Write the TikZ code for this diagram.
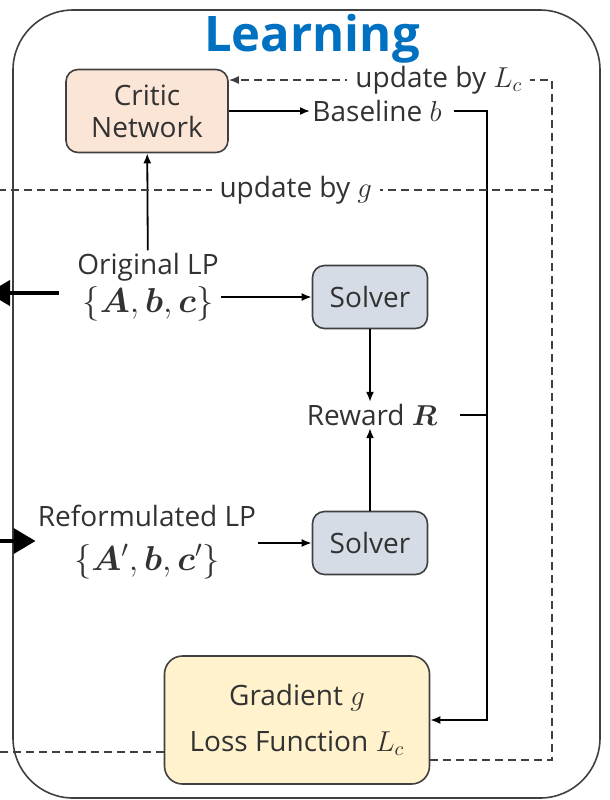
\documentclass[tikz,border=0pt]{standalone}
\usepackage{amsmath}
\usepackage{bm}
\usepackage{fontspec}
\setmainfont{Open Sans}
\usepackage{tikz}
\usetikzlibrary{%
   arrows.meta,%
   calc,%
   positioning}
\definecolor{titelblau}{RGB}{0,112,192}
\definecolor{kritik}{RGB}{251,229,214}
\definecolor{loeser}{RGB}{214,220,229}
\definecolor{verlust}{RGB}{255,242,204}
\definecolor{rahmen}{RGB}{64,64,64}
\definecolor{schrift}{RGB}{50,50,50}
\newcommand{\lpset}[1]{{\fontsize{18}{21}\selectfont$\{#1\}$}}
\begin{document}
\begin{tikzpicture}
[x=0.5pt, y=-0.5pt,
 font=\fontsize{14}{16}\selectfont,
 box/.style={draw=rahmen, rectangle, line width=0.8pt, rounded corners=6pt, text=schrift, align=center},
 txt/.style={text=schrift, inner sep=1pt, align=center},
 pfeil/.style={-{Latex[length=5pt,width=4pt]}, line width=0.9pt},
 strich/.style={line width=0.9pt},
 gestr/.style={dash pattern=on 4pt off 2.5pt, line width=0.7pt, draw=black!75},
 dpfeil/.style={gestr, -{Latex[length=5pt,width=4pt]}},
 dick/.style={line width=2pt, -{Triangle[length=11pt,width=12.5pt]}}]
\clip (0,0) rectangle (610,800);
\draw[rahmen, line width=0.8pt, rounded corners=30pt] (13,10) rectangle (600,798);
\node (titel) at (312,39) {\fontsize{24.5}{26}\selectfont\bfseries\color{titelblau}Learning};
\node (critic) [box, fill=kritik, minimum width=81pt, minimum height=41.5pt] at (147,111) {Critic\\ Network};
\node (baseln) [txt] at (377,111) {Baseline $b$};
\node (origlp) [txt] at (148,287) {Original LP\\[2pt] \lpset{\bm{A},\bm{b},\bm{c}}};
\node (solver1) [box, fill=loeser, minimum width=57.5pt, minimum height=31.5pt] at (370,297) {Solver};
\node (reward) [txt] at (372,415) {Reward $\bm{R}$};
\node (solver2) [box, fill=loeser, minimum width=57.5pt, minimum height=31.5pt] at (370,543) {Solver};
\node (reflp) [txt] at (147,542) {Reformulated LP\\[6pt] \lpset{\bm{A}',\bm{b},\bm{c}'}};
\node (lossfn) [box, fill=verlust, minimum width=132.5pt, minimum height=64pt, rounded corners=9pt] at (297,720) {Gradient $g$\\[7pt] Loss Function $L_c$};
\coordinate (bcorner) at (487,111);
\coordinate (lctop) at (552,80);
\coordinate (lcbot) at (552,760);
\coordinate (gecke) at (552,190);
\coordinate (glinks) at (-5,190);
\coordinate (lblinks) at (-5,752);
\coordinate (lpaus) at (-12,293);
\coordinate (rein) at (-10,541);
% solid connectors
\draw[pfeil] (origlp) -- (critic);
\draw[pfeil] (critic) -- (baseln);
\draw[pfeil, shorten <=5pt] (baseln) -- (bcorner) |- (lossfn);
\draw[strich, shorten <=10pt] (reward) -- (bcorner |- reward);
\draw[pfeil] (origlp.east |- solver1) -- (solver1);
\draw[pfeil] (solver1) -- (solver1 |- reward.north);
\draw[pfeil] (solver2) -- (solver2 |- reward.south);
\draw[pfeil] (reflp.east |- solver2) -- (solver2);
% dashed updates
\draw[dpfeil] (lossfn.east |- lcbot) -- (lcbot) -- (lctop) -- node (lcupd) [txt, fill=white, inner xsep=4pt, pos=0.35] {update by $L_c$} (critic.east |- lctop);
\draw[gestr] (gecke) -- node (gupd) [txt, fill=white, inner xsep=4pt, pos=0.46] {update by $g$} (glinks);
\draw[gestr] (lossfn.west |- lblinks) -- (lblinks);
% to and from the left
\draw[dick, shorten <=8pt] (origlp.west |- lpaus) -- (lpaus);
\draw[dick] (rein) -- (reflp.west |- rein);
\end{tikzpicture}
\end{document}
